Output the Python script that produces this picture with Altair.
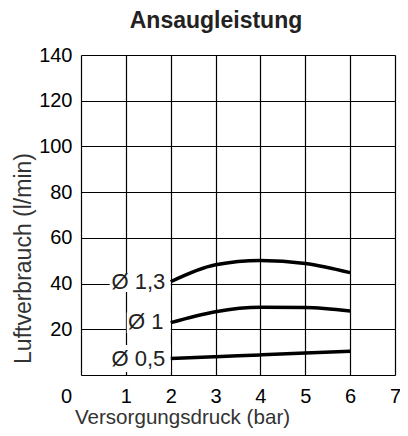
import altair as alt
import pandas as pd

pressure = [2, 3, 4, 5, 6]
flow_13 = [40.8, 48.2, 50.1, 48.8, 44.8]
flow_10 = [22.9, 27.7, 29.6, 29.5, 28.0]
flow_05 = [7.2, 8.0, 8.8, 9.6, 10.4]

series_names = ["Ø 1,3", "Ø 1", "Ø 0,5"]
label_x = [1.88, 1.84, 1.88]
label_y = [40.6, 23.3, 6.8]
box_x1 = [0.64, 1.02, 0.64]
box_x2 = [2.0, 2.0, 2.0]
box_y1 = [36.3, 18.4, 1.3]
box_y2 = [44.2, 27.3, 13.1]

x_ticks = [0, 1, 2, 3, 4, 5, 6, 7]
y_ticks = [0, 20, 40, 60, 80, 100, 120, 140]

FONT = "Liberation Sans"

rows = []
for name, vals in zip(series_names, [flow_13, flow_10, flow_05]):
    for p, v in zip(pressure, vals):
        rows.append({"series": name, "p": p, "q": v})
curves = pd.DataFrame(rows)

labels = pd.DataFrame({
    "series": series_names, "lx": label_x, "ly": label_y,
    "x1": box_x1, "x2": box_x2, "y1": box_y1, "y2": box_y2,
})

xscale = alt.Scale(domain=[0, 7], nice=False, zero=False)
yscale = alt.Scale(domain=[0, 140], nice=False)

xaxis = alt.Axis(
    values=x_ticks, grid=True, gridColor="black", gridWidth=1.2, gridOpacity=1,
    domain=False, ticks=False, labelFontSize=20, labelColor="black", labelFont=FONT,
    labelPadding=11, labelFlush=False,
    labelOffset={"condition": {"test": "datum.value == 0", "value": -15}, "value": 0},
    title="Versorgungsdruck  (bar)", titleFont=FONT, titleFontSize=20.6,
    titleFontWeight="normal", titleColor="#333333",
    titleX=101, titleY=42, titleBaseline="middle", titleAnchor="start", titleAlign="center",
)
yaxis = alt.Axis(
    values=y_ticks, grid=True, gridColor="black", gridWidth=1.2, gridOpacity=1,
    domain=False, ticks=False, labelFontSize=20, labelColor="black", labelFont=FONT,
    labelPadding=9, labelFlush=False,
    labelExpr="datum.value == 0 ? '' : datum.label",
    title="Luftverbrauch  (l/min)", titleFont=FONT, titleFontSize=23,
    titleFontWeight="normal", titleColor="#333333",
    titleX=-58, titleY=203, titleBaseline="middle", titleAngle=-90, titleAlign="center",
)

base_x = alt.X("p:Q", scale=xscale, axis=xaxis)
base_y = alt.Y("q:Q", scale=yscale, axis=yaxis)

lines = alt.Chart(curves).mark_line(
    color="black", strokeWidth=3.5, interpolate="monotone", strokeCap="butt"
).encode(x=base_x, y=base_y, detail="series:N")

boxes = alt.Chart(labels).mark_rect(color="white").encode(
    x=alt.X("x1:Q", scale=xscale, axis=xaxis),
    x2="x2:Q",
    y=alt.Y("y1:Q", scale=yscale, axis=yaxis),
    y2="y2:Q",
)

texts = alt.Chart(labels).mark_text(
    align="right", baseline="middle", fontSize=22, font=FONT, color="#222222"
).encode(
    x=alt.X("lx:Q", scale=xscale, axis=xaxis),
    y=alt.Y("ly:Q", scale=yscale, axis=yaxis),
    text="series:N",
)

chart = alt.layer(boxes, lines, texts).properties(
    width=314, height=320,
    title=alt.TitleParams("Ansaugleistung", fontSize=23, font=FONT, fontWeight="bold",
                          color="#222222", anchor="middle", dx=-22, offset=0, dy=6,
                          baseline="alphabetic"),
    autosize=alt.AutoSizeParams(type="none"),
    padding={"left": 73, "top": 47, "right": 5, "bottom": 53},
).configure_view(stroke="black", strokeWidth=1.2).configure(background="white")

chart.save("out.html", embed_options={"renderer": "svg", "actions": False})
